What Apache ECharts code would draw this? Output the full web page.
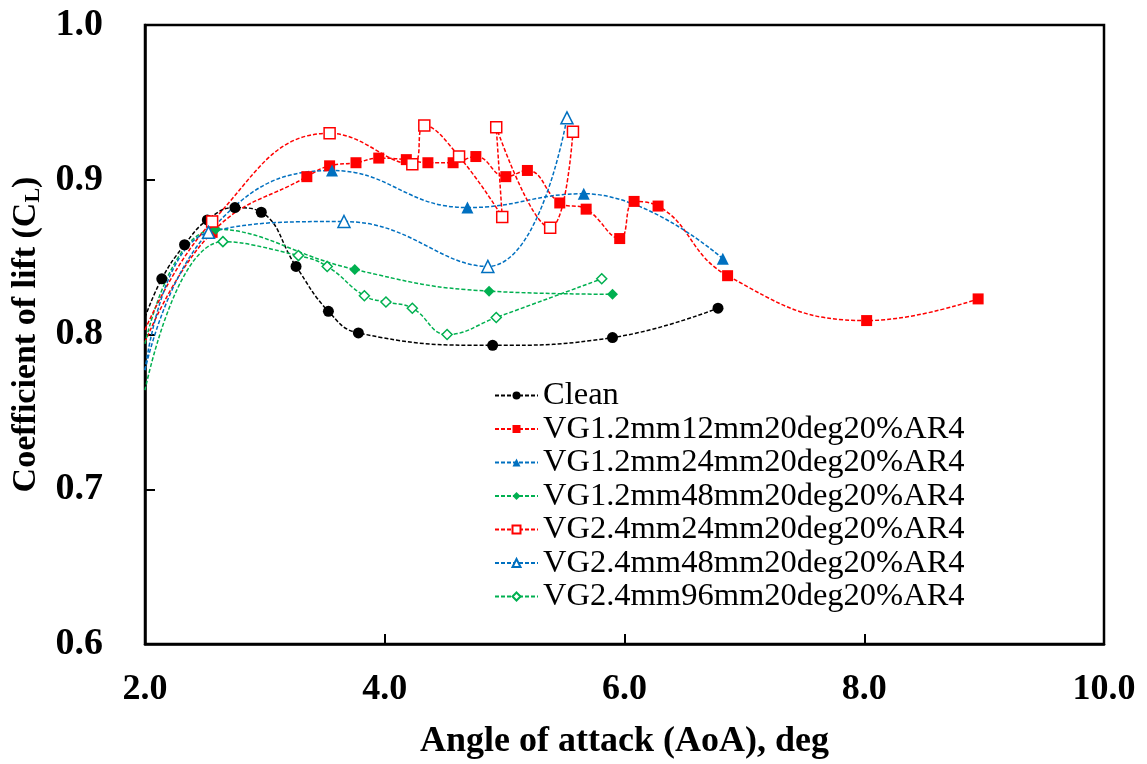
<!DOCTYPE html>
<html>
<head>
<meta charset="utf-8">
<script src="https://cdn.jsdelivr.net/npm/echarts@6/dist/echarts.min.js"></script>
<style>
  html, body { margin: 0; padding: 0; background: #fff; }
  #chart { width: 1147px; height: 764px; }
</style>
</head>
<body>
<div id="chart"></div>
<script>
// angle of attack (deg) and lift coefficient
// first entry of each series is where the curve meets the left axis (no marker)
var cleanAoA = [2.0, 2.14, 2.33, 2.52, 2.75, 2.97, 3.26, 3.53, 3.78, 4.90, 5.90, 6.78];
var cleanCL  = [0.811, 0.836, 0.858, 0.874, 0.882, 0.879, 0.844, 0.815, 0.801, 0.793, 0.798, 0.817];

var vg12_12AoA = [2.0, 2.56, 3.35, 3.54, 3.76, 3.95, 4.18, 4.36, 4.57, 4.76, 5.01, 5.19, 5.46, 5.68, 5.96, 6.08, 6.28, 6.86, 8.02, 8.95];
var vg12_12CL  = [0.795, 0.866, 0.902, 0.909, 0.911, 0.914, 0.913, 0.911, 0.911, 0.915, 0.902, 0.906, 0.885, 0.881, 0.862, 0.886, 0.883, 0.838, 0.809, 0.823];

var vg12_24AoA = [2.0, 2.53, 3.56, 4.69, 5.66, 6.82];
var vg12_24CL  = [0.777, 0.866, 0.906, 0.882, 0.891, 0.849];

var vg12_48AoA = [2.0, 2.59, 3.75, 4.87, 5.90];
var vg12_48CL  = [0.794, 0.868, 0.842, 0.828, 0.826];

var vg24_24AoA = [2.0, 2.56, 3.54, 4.23, 4.33, 4.62, 4.98, 4.93, 5.38, 5.57];
var vg24_24CL  = [0.803, 0.873, 0.930, 0.910, 0.935, 0.915, 0.876, 0.934, 0.869, 0.931];

var vg24_48AoA = [2.0, 2.53, 3.66, 4.86, 5.52];
var vg24_48CL  = [0.777, 0.866, 0.873, 0.844, 0.940];

var vg24_96AoA = [2.0, 2.65, 3.28, 3.52, 3.83, 4.01, 4.23, 4.52, 4.93, 5.81];
var vg24_96CL  = [0.764, 0.860, 0.851, 0.844, 0.825, 0.821, 0.817, 0.800, 0.811, 0.836];

var names = ['Clean', 'VG1.2mm12mm20deg20%AR4', 'VG1.2mm24mm20deg20%AR4', 'VG1.2mm48mm20deg20%AR4',
             'VG2.4mm24mm20deg20%AR4', 'VG2.4mm48mm20deg20%AR4', 'VG2.4mm96mm20deg20%AR4'];

var font = 'Liberation Serif, Times New Roman, serif';

function pts(xs, ys) {
  return xs.map(function (x, i) {
    if (i === 0) return { value: [x, ys[i]], symbol: 'none' };
    return [x, ys[i]];
  });
}

function line(name, xs, ys, color, symbol, size, hollow) {
  return {
    name: name,
    type: 'line',
    smooth: 0.45,
    data: pts(xs, ys),
    symbol: symbol,
    symbolSize: size,
    showAllSymbol: true,
    lineStyle: { color: color, width: 1.5, type: [4, 2] },
    itemStyle: hollow
      ? { color: '#fff', borderColor: color, borderWidth: 1.5 }
      : { color: color, borderWidth: 0 },
    emphasis: { disabled: true },
    z: 3
  };
}

var chart = echarts.init(document.getElementById('chart'));

chart.setOption({
  animation: false,
  backgroundColor: '#fff',
  grid: {
    left: 145, right: 43, top: 25, bottom: 120,
    outerBoundsMode: 'none',
    containLabel: false,
    show: true, borderColor: '#000', borderWidth: 2.5
  },
  legend: {
    data: names,
    orient: 'vertical',
    left: 489,
    top: 374,
    itemWidth: 43,
    itemHeight: 10,
    itemGap: 0.5,
    textStyle: { fontFamily: font, fontSize: 32.5, color: '#000' }
  },
  xAxis: {
    type: 'value',
    min: 2, max: 10, interval: 2,
    name: 'Angle of attack (AoA), deg',
    nameLocation: 'middle',
    nameGap: 80,
    nameTextStyle: { fontFamily: font, fontWeight: 'bold', fontSize: 36, color: '#000' },
    axisLine: { lineStyle: { color: '#000', width: 2.5 } },
    axisTick: { inside: true, length: 10, lineStyle: { color: '#000', width: 2 } },
    axisLabel: {
      margin: 28,
      fontFamily: font, fontWeight: 'bold', fontSize: 36, color: '#000',
      formatter: function (v) { return v.toFixed(1); }
    },
    splitLine: { show: false }
  },
  yAxis: {
    type: 'value',
    min: 0.6, max: 1.0, interval: 0.1,
    name: 'Coefficient of lift (C{sub|L})',
    nameLocation: 'middle',
    nameGap: 88,
    nameTextStyle: {
      fontFamily: font, fontWeight: 'bold', fontSize: 34, color: '#000',
      rich: { sub: { fontFamily: font, fontWeight: 'bold', fontSize: 22, color: '#000', padding: [14, 0, 0, 0] } }
    },
    axisLine: { lineStyle: { color: '#000', width: 2.5 } },
    axisTick: { inside: true, length: 10, lineStyle: { color: '#000', width: 2 } },
    axisLabel: {
      margin: 42,
      fontFamily: font, fontWeight: 'bold', fontSize: 38, color: '#000',
      formatter: function (v) { return v.toFixed(1); }
    },
    splitLine: { show: false }
  },
  series: [
    line(names[0], cleanAoA, cleanCL, '#000000', 'circle', 11, false),
    line(names[1], vg12_12AoA, vg12_12CL, '#ff0000', 'rect', 11, false),
    line(names[2], vg12_24AoA, vg12_24CL, '#0070c0', 'triangle', 12, false),
    line(names[3], vg12_48AoA, vg12_48CL, '#00b050', 'diamond', 11, false),
    line(names[4], vg24_24AoA, vg24_24CL, '#ff0000', 'rect', 11, true),
    line(names[5], vg24_48AoA, vg24_48CL, '#0070c0', 'triangle', 12, true),
    line(names[6], vg24_96AoA, vg24_96CL, '#00b050', 'diamond', 10, true)
  ]
});
</script>
</body>
</html>
